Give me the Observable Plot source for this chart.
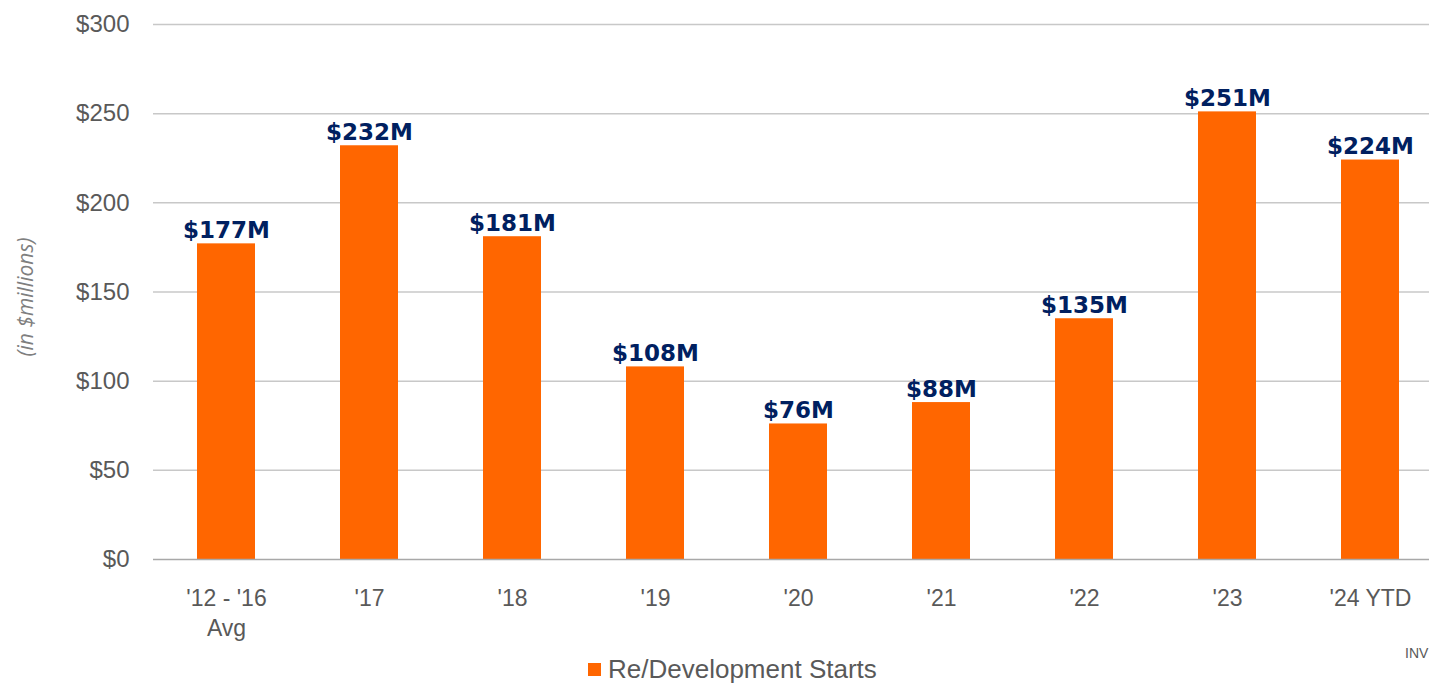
<!DOCTYPE html>
<html>
<head>
<meta charset="utf-8">
<script src="https://cdn.jsdelivr.net/npm/d3@7"></script>
<script src="https://cdn.jsdelivr.net/npm/@observablehq/plot@0.6"></script>
<style>
  html, body { margin: 0; padding: 0; background: #fff; overflow: hidden; width: 1429px; height: 683px; }
  #wrap { position: relative; width: 1429px; height: 683px; overflow: hidden; }
  #chart { width: 1443px; }
  #chart svg { display: block; max-width: none !important; }
  #legend { position: absolute; left: 588px; top: 654px; font-family: "Liberation Sans", Arial, sans-serif; font-size: 26px; line-height: 30px; color: #595959; white-space: nowrap; }
  #legend .sw { position: absolute; left: 0; top: 9px; width: 13px; height: 13px; background: #FF6600; }
  #legend .lbl { position: absolute; left: 20px; top: 0; }
  #src { position: absolute; left: 1405px; top: 645px; font-family: "Liberation Sans", Arial, sans-serif; font-size: 14px; color: #595959; white-space: nowrap; }
</style>
</head>
<body>
<div id="wrap">
  <div id="chart"></div>
  <div id="legend"><span class="sw"></span><span class="lbl">Re/Development Starts</span></div>
  <div id="src">INV</div>
</div>
<script>
const categories = ["'12 - '16\nAvg", "'17", "'18", "'19", "'20", "'21", "'22", "'23", "'24 YTD"];
const values = [177, 232, 181, 108, 76, 88, 135, 251, 224];
const valueLabels = ["$177M", "$232M", "$181M", "$108M", "$76M", "$88M", "$135M", "$251M", "$224M"];
const yTicks = [0, 50, 100, 150, 200, 250, 300];
const yTickLabels = ["$0", "$50", "$100", "$150", "$200", "$250", "$300"];
const yTitle = "(in $millions)";
const seriesName = "Re/Development Starts";

const data = categories.map((c, i) => ({category: c, value: values[i], label: valueLabels[i]}));

const chart = Plot.plot({
  width: 1443,
  height: 640,
  marginLeft: 153,
  marginRight: 0,
  marginTop: 24,
  marginBottom: 81,
  style: {background: "#fff", overflow: "visible", maxWidth: "none"},
  x: {domain: categories, paddingInner: 0.595, paddingOuter: 0.2975, axis: null},
  y: {domain: [0, 300], axis: null},
  marks: [
    Plot.ruleY(yTicks.filter(d => d > 0), {stroke: "#c8c8c8", strokeWidth: 1.5}),
    Plot.barY(data, {x: "category", y: "value", fill: "#FF6600"}),
    Plot.ruleY([0], {stroke: "#a8a8a8", strokeWidth: 1.5}),
    Plot.text(data, {x: "category", y: "value", text: "label", dy: -6, lineAnchor: "bottom",
      fill: "#002060", fontSize: 23, fontWeight: "bold", fontFamily: "DejaVu Sans"}),
    Plot.text(yTicks, {y: d => d, text: (d, i) => yTickLabels[i], frameAnchor: "left", dx: -24, textAnchor: "end",
      fill: "#595959", fontSize: 24, fontFamily: "Liberation Sans"}),
    Plot.text(categories, {x: d => d, text: d => d, frameAnchor: "bottom", lineAnchor: "top", dy: 25, lineHeight: 1.3,
      fill: "#595959", fontSize: 23, fontFamily: "Liberation Sans"}),
    Plot.text([yTitle], {frameAnchor: "left", dx: -127, dy: 5, rotate: -90, textAnchor: "middle", text: d => d,
      fill: "#7f7f7f", fontSize: 21, fontStyle: "italic", fontFamily: "Open Sans"})
  ]
});
document.getElementById("chart").appendChild(chart);
document.querySelector("#legend .lbl").textContent = seriesName;
</script>
</body>
</html>
